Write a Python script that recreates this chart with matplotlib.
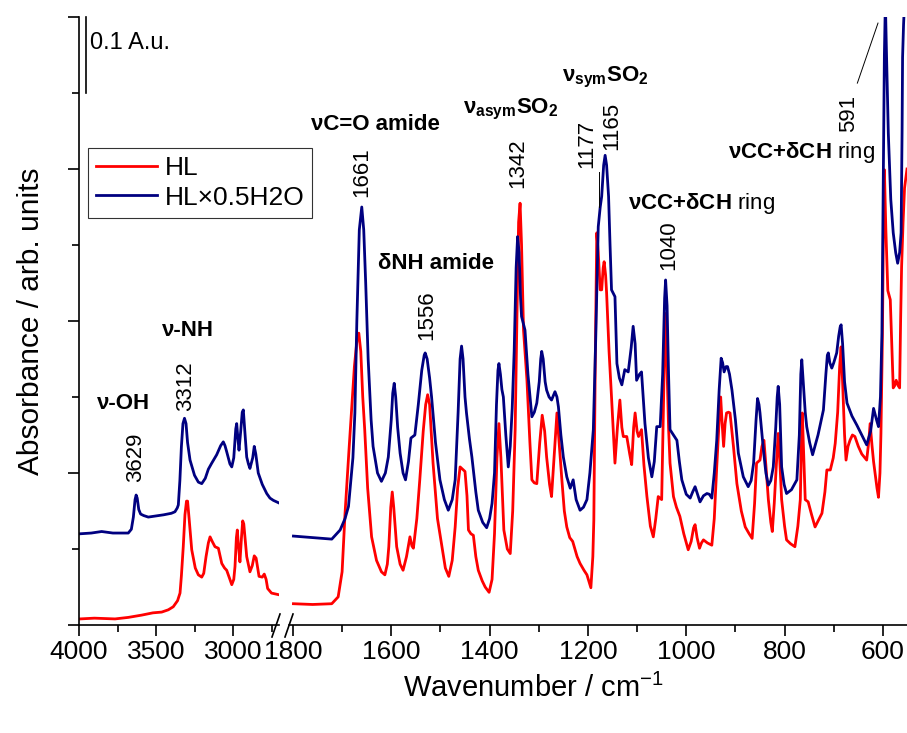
import matplotlib
matplotlib.use("Agg")
import matplotlib.pyplot as plt
from matplotlib.lines import Line2D
from matplotlib.ticker import MultipleLocator

plt.rcParams['font.family'] = ['Liberation Sans', 'DejaVu Sans']
plt.rcParams['mathtext.fontset'] = 'custom'
plt.rcParams['mathtext.rm'] = 'Liberation Sans'
plt.rcParams['mathtext.bf'] = 'Liberation Sans:bold'
plt.rcParams['mathtext.it'] = 'Liberation Sans:italic'

# --- data (wavenumber cm-1, absorbance incl. offset) ---
# high wavenumber part (4000 - 2700)
hl_left_wn = [3994, 3900, 3766, 3680, 3593, 3520, 3463, 3420, 3388, 3360, 3344, 3335, 3323, 3312, 3302,
              3295, 3285, 3268, 3245, 3225, 3203, 3190, 3175, 3160, 3149, 3135, 3117, 3095, 3073, 3055,
              3041, 3020, 3008, 2995, 2987, 2978, 2972, 2965, 2955, 2945, 2937, 2930, 2911, 2890, 2875,
              2862, 2850, 2831, 2810, 2797, 2785, 2775, 2750, 2706]
hl_left_abs = [0.008, 0.009, 0.008, 0.010, 0.013, 0.016, 0.017, 0.020, 0.024, 0.032, 0.042, 0.065, 0.103, 0.145, 0.163,
               0.163, 0.140, 0.099, 0.075, 0.066, 0.063, 0.068, 0.090, 0.108, 0.116, 0.110, 0.103, 0.101, 0.081, 0.075,
               0.072, 0.060, 0.053, 0.060, 0.077, 0.115, 0.125, 0.105, 0.083, 0.115, 0.137, 0.133, 0.090, 0.070, 0.078,
               0.091, 0.088, 0.064, 0.063, 0.067, 0.060, 0.048, 0.042, 0.040]

hyd_left_wn = [3994, 3920, 3853, 3780, 3680, 3660, 3647, 3636, 3629, 3622, 3612, 3600, 3580, 3550, 3450,
               3400, 3377, 3362, 3355, 3345, 3335, 3325, 3315, 3305, 3295, 3279, 3250, 3225, 3203, 3180,
               3160, 3138, 3106, 3080, 3063, 3052, 3041, 3020, 3008, 2995, 2982, 2976, 2968, 2961, 2950,
               2940, 2933, 2925, 2911, 2900, 2890, 2872, 2862, 2852, 2836, 2810, 2781, 2760, 2738, 2706]
hyd_left_abs = [0.120, 0.121, 0.123, 0.121, 0.121, 0.126, 0.142, 0.165, 0.171, 0.167, 0.152, 0.146, 0.144, 0.142, 0.145,
                0.147, 0.149, 0.154, 0.158, 0.190, 0.235, 0.265, 0.272, 0.265, 0.240, 0.217, 0.197, 0.188, 0.186, 0.193,
                0.205, 0.213, 0.224, 0.236, 0.241, 0.236, 0.228, 0.212, 0.208, 0.220, 0.258, 0.265, 0.245, 0.230, 0.255,
                0.280, 0.283, 0.260, 0.221, 0.212, 0.206, 0.220, 0.235, 0.225, 0.200, 0.185, 0.173, 0.167, 0.164, 0.161]

# fingerprint part (1800 - 550)
hl_right_wn = [1799, 1760, 1721, 1708, 1700, 1694, 1686, 1681, 1675, 1669, 1666, 1662, 1658, 1654, 1648,
               1640, 1630, 1620, 1613, 1608, 1605, 1601, 1598, 1595, 1589, 1582, 1576, 1569, 1562, 1558,
               1555, 1548, 1542, 1535, 1530, 1526, 1522, 1515, 1506, 1497, 1490, 1483, 1476, 1470, 1465,
               1460, 1455, 1450, 1446, 1443, 1438, 1433, 1428, 1423, 1415, 1409, 1401, 1395, 1390, 1385,
               1381, 1377, 1371, 1364, 1358, 1353, 1348, 1344, 1341, 1338, 1335, 1331, 1324, 1318, 1314,
               1309, 1304, 1298, 1293, 1288, 1284, 1278, 1274, 1269, 1263, 1258, 1253, 1248, 1243, 1237,
               1231, 1222, 1216, 1208, 1202, 1194, 1190, 1188, 1185, 1182, 1179, 1175, 1172, 1169, 1167,
               1164, 1162, 1157, 1152, 1145, 1140, 1135, 1131, 1128, 1121, 1115, 1111, 1107, 1104, 1100,
               1097, 1091, 1086, 1080, 1073, 1067, 1062, 1057, 1050, 1046, 1043, 1040, 1036, 1033, 1026,
               1020, 1013, 1005, 996, 990, 985, 982, 978, 973, 969, 965, 957, 948, 943, 938,
               933, 930, 927, 924, 921, 918, 914, 911, 904, 897, 888, 880, 872, 866, 861,
               857, 850, 846, 842, 838, 833, 828, 825, 821, 817, 813, 810, 806, 800, 796,
               788, 779, 773, 768, 766, 764, 761, 758, 752, 745, 738, 731, 724, 718, 714,
               707, 701, 697, 692, 688, 685, 682, 678, 675, 671, 667, 662, 657, 650, 643,
               633, 629, 626, 622, 619, 616, 612, 609, 606, 604, 601, 599, 597, 594, 590,
               585, 581, 579, 576, 573, 569, 566, 564, 562, 559, 556, 551]
hl_right_abs = [0.028, 0.027, 0.028, 0.037, 0.070, 0.147, 0.230, 0.279, 0.340, 0.380, 0.384, 0.360, 0.300, 0.257, 0.180,
                0.116, 0.085, 0.070, 0.066, 0.080, 0.103, 0.155, 0.175, 0.155, 0.103, 0.080, 0.072, 0.090, 0.116, 0.104,
                0.101, 0.140, 0.191, 0.255, 0.290, 0.303, 0.290, 0.213, 0.140, 0.103, 0.075, 0.064, 0.085, 0.129, 0.180,
                0.208, 0.205, 0.202, 0.170, 0.125, 0.120, 0.118, 0.090, 0.072, 0.058, 0.050, 0.043, 0.060, 0.120, 0.220,
                0.265, 0.220, 0.125, 0.100, 0.094, 0.150, 0.257, 0.420, 0.530, 0.555, 0.500, 0.388, 0.322, 0.240, 0.191,
                0.187, 0.186, 0.240, 0.276, 0.255, 0.221, 0.185, 0.169, 0.220, 0.279, 0.235, 0.191, 0.150, 0.129, 0.115,
                0.110, 0.090, 0.081, 0.072, 0.066, 0.049, 0.090, 0.138, 0.350, 0.516, 0.490, 0.441, 0.441, 0.470, 0.478,
                0.460, 0.437, 0.360, 0.300, 0.213, 0.260, 0.296, 0.260, 0.248, 0.248, 0.225, 0.211, 0.260, 0.279, 0.255,
                0.248, 0.257, 0.210, 0.169, 0.130, 0.116, 0.140, 0.169, 0.165, 0.300, 0.410, 0.360, 0.260, 0.213, 0.169,
                0.155, 0.143, 0.120, 0.099, 0.110, 0.128, 0.132, 0.115, 0.101, 0.108, 0.112, 0.108, 0.105, 0.140, 0.208,
                0.270, 0.300, 0.265, 0.235, 0.265, 0.279, 0.280, 0.279, 0.235, 0.186, 0.150, 0.129, 0.120, 0.114, 0.160,
                0.213, 0.217, 0.235, 0.243, 0.210, 0.165, 0.135, 0.123, 0.160, 0.208, 0.252, 0.220, 0.165, 0.130, 0.112,
                0.107, 0.103, 0.130, 0.165, 0.230, 0.279, 0.220, 0.165, 0.162, 0.145, 0.129, 0.138, 0.147, 0.175, 0.204,
                0.204, 0.220, 0.239, 0.280, 0.340, 0.366, 0.320, 0.250, 0.217, 0.235, 0.243, 0.250, 0.248, 0.235, 0.225,
                0.217, 0.240, 0.265, 0.235, 0.215, 0.200, 0.180, 0.168, 0.200, 0.252, 0.380, 0.520, 0.599, 0.520, 0.440,
                0.428, 0.350, 0.312, 0.315, 0.322, 0.315, 0.312, 0.400, 0.471, 0.530, 0.575, 0.600]

hyd_right_wn = [1799, 1760, 1721, 1704, 1694, 1687, 1678, 1674, 1670, 1665, 1660, 1656, 1652, 1647, 1641,
                1637, 1628, 1620, 1612, 1606, 1600, 1597, 1594, 1591, 1587, 1582, 1576, 1571, 1565, 1560,
                1552, 1545, 1538, 1533, 1531, 1527, 1522, 1518, 1510, 1501, 1492, 1484, 1476, 1470, 1464,
                1460, 1457, 1454, 1450, 1447, 1441, 1436, 1428, 1423, 1414, 1406, 1400, 1395, 1390, 1386,
                1383, 1381, 1378, 1375, 1372, 1367, 1362, 1358, 1354, 1350, 1346, 1343, 1340, 1337, 1335,
                1328, 1322, 1314, 1309, 1304, 1299, 1296, 1294, 1291, 1287, 1284, 1279, 1274, 1267, 1263,
                1260, 1255, 1250, 1243, 1236, 1230, 1224, 1216, 1209, 1202, 1196, 1189, 1184, 1179, 1175,
                1172, 1168, 1165, 1162, 1158, 1155, 1152, 1145, 1141, 1136, 1131, 1125, 1118, 1112, 1108,
                1104, 1101, 1095, 1091, 1084, 1077, 1070, 1065, 1060, 1053, 1048, 1044, 1042, 1039, 1036,
                1033, 1026, 1019, 1014, 1009, 1000, 992, 987, 982, 977, 972, 965, 958, 953, 948,
                943, 938, 933, 929, 926, 923, 919, 916, 912, 907, 900, 894, 884, 874, 868,
                863, 858, 855, 852, 850, 843, 838, 833, 828, 823, 818, 815, 813, 810, 806,
                801, 796, 786, 775, 770, 767, 765, 762, 758, 755, 749, 743, 732, 721, 716,
                713, 711, 708, 704, 700, 694, 690, 687, 685, 682, 678, 673, 663, 653, 643,
                633, 625, 619, 613, 609, 605, 602, 599, 597, 595, 593, 589, 584, 579, 574,
                570, 566, 563, 561, 560, 558, 556, 551]
hyd_right_abs = [0.117, 0.115, 0.113, 0.125, 0.140, 0.156, 0.220, 0.279, 0.400, 0.520, 0.550, 0.520, 0.450, 0.350, 0.270,
                 0.235, 0.200, 0.189, 0.200, 0.221, 0.270, 0.305, 0.318, 0.300, 0.260, 0.226, 0.200, 0.191, 0.215, 0.246,
                 0.250, 0.290, 0.335, 0.355, 0.358, 0.350, 0.325, 0.300, 0.240, 0.191, 0.165, 0.151, 0.165, 0.191, 0.280,
                 0.350, 0.367, 0.350, 0.300, 0.279, 0.245, 0.221, 0.175, 0.151, 0.135, 0.128, 0.140, 0.160, 0.200, 0.290,
                 0.335, 0.344, 0.330, 0.310, 0.300, 0.250, 0.208, 0.235, 0.285, 0.360, 0.470, 0.511, 0.490, 0.430, 0.406,
                 0.388, 0.330, 0.274, 0.280, 0.292, 0.320, 0.350, 0.360, 0.350, 0.320, 0.309, 0.300, 0.296, 0.307, 0.300,
                 0.287, 0.250, 0.221, 0.195, 0.180, 0.191, 0.165, 0.151, 0.155, 0.165, 0.200, 0.257, 0.380, 0.524, 0.550,
                 0.564, 0.605, 0.618, 0.605, 0.564, 0.500, 0.441, 0.432, 0.344, 0.325, 0.316, 0.336, 0.333, 0.365, 0.393,
                 0.370, 0.322, 0.330, 0.333, 0.265, 0.220, 0.195, 0.215, 0.261, 0.261, 0.330, 0.430, 0.454, 0.420, 0.330,
                 0.257, 0.250, 0.243, 0.215, 0.191, 0.172, 0.167, 0.175, 0.182, 0.172, 0.162, 0.170, 0.173, 0.172, 0.167,
                 0.200, 0.243, 0.310, 0.351, 0.345, 0.333, 0.340, 0.340, 0.330, 0.309, 0.270, 0.226, 0.195, 0.182, 0.190,
                 0.213, 0.270, 0.298, 0.290, 0.279, 0.230, 0.200, 0.184, 0.190, 0.208, 0.260, 0.300, 0.314, 0.290, 0.208,
                 0.185, 0.173, 0.178, 0.191, 0.250, 0.330, 0.349, 0.320, 0.280, 0.261, 0.240, 0.224, 0.250, 0.283, 0.330,
                 0.355, 0.358, 0.345, 0.338, 0.345, 0.358, 0.380, 0.392, 0.395, 0.370, 0.320, 0.292, 0.275, 0.263, 0.250,
                 0.237, 0.255, 0.285, 0.270, 0.261, 0.300, 0.384, 0.603, 0.750, 0.820, 0.760, 0.647, 0.560, 0.516, 0.490,
                 0.476, 0.490, 0.516, 0.650, 0.747, 0.790, 0.820, 0.820]

series_labels = ['HL', 'HL×0.5H2O']
red = '#ff0000'
navy = '#000080'

fig = plt.figure(figsize=(9.07, 7.33), dpi=100)
W, H = 907.0, 733.0


def fx(px):
    return px / W


def fy(py):
    return 1 - py / H


bot, top = fy(625), fy(17)
ax1 = fig.add_axes([fx(79), bot, fx(279.2) - fx(79), top - bot])
ax2 = fig.add_axes([fx(289), bot, 1 - fx(289), top - bot])

lw = 2.0
ax1.plot(hl_left_wn, hl_left_abs, color=red, lw=lw, solid_joinstyle='round')
ax1.plot(hyd_left_wn, hyd_left_abs, color=navy, lw=lw, solid_joinstyle='round')
ax2.plot(hl_right_wn, hl_right_abs, color=red, lw=lw, solid_joinstyle='round', label=series_labels[0])
ax2.plot(hyd_right_wn, hyd_right_abs, color=navy, lw=lw, solid_joinstyle='round', label=series_labels[1])

ax1.set_xlim(4000, 2700)
ax2.set_xlim(1808, 551)
for ax in (ax1, ax2):
    ax.set_ylim(0, 0.8)
    ax.spines['top'].set_visible(False)
    ax.spines['right'].set_visible(False)
    ax.spines['bottom'].set_linewidth(1.2)
    ax.spines['left'].set_linewidth(1.2)
    ax.tick_params(which='major', direction='out', length=8, width=1.2, labelsize=19, pad=3)
    ax.tick_params(which='minor', direction='out', length=5, width=1.2)
    ax.patch.set_alpha(0)

ax1.xaxis.set_major_locator(MultipleLocator(500))
ax1.xaxis.set_minor_locator(MultipleLocator(250))
ax1.yaxis.set_major_locator(MultipleLocator(0.2))
ax1.yaxis.set_minor_locator(MultipleLocator(0.1))
ax1.set_yticklabels([])
ax1.set_xticks([4000, 3500, 3000])

ax2.xaxis.set_major_locator(MultipleLocator(200))
ax2.xaxis.set_minor_locator(MultipleLocator(100))
ax2.spines['left'].set_visible(False)
ax2.tick_params(axis='y', which='both', left=False, labelleft=False)

# axis break marks
for xc in (277, 290):
    fig.add_artist(Line2D([fx(xc - 5), fx(xc + 3)], [fy(637), fy(614)], color='black', lw=1.2))

# scale bar
ax1.plot([3955, 3955], [0.7, 0.8], color='black', lw=1.2, clip_on=False)
ax1.text(3929, 0.766, '0.1 A.u.', fontsize=17, ha='left', va='center')

# band annotations
ann = 16
ax1.text(3714, 0.291, 'ν-OH', fontsize=ann, fontweight='bold', ha='center', va='center')
ax1.text(3630, 0.188, '3629', fontsize=ann, rotation=90, ha='center', va='bottom')
ax1.text(3292, 0.388, 'ν-NH', fontsize=ann, fontweight='bold', ha='center', va='center')
ax1.text(3305, 0.282, '3312', fontsize=ann, rotation=90, ha='center', va='bottom')

ax2.text(1633, 0.658, 'νC=O amide', fontsize=ann, fontweight='bold', ha='center', va='center')
ax2.text(1661, 0.563, '1661', fontsize=ann, rotation=90, ha='center', va='bottom')
ax2.text(1509, 0.476, 'δNH amide', fontsize=ann, fontweight='bold', ha='center', va='center')
ax2.text(1527, 0.375, '1556', fontsize=ann, rotation=90, ha='center', va='bottom')
ax2.text(1358, 0.678, r'ν$_{\mathbf{asym}}$SO$_{\mathbf{2}}$', fontsize=ann, fontweight='bold',
         ha='center', va='center')
ax2.text(1342, 0.575, '1342', fontsize=ann, rotation=90, ha='center', va='bottom')
ax2.text(1165, 0.721, r'ν$_{\mathbf{sym}}$SO$_{\mathbf{2}}$', fontsize=ann, fontweight='bold',
         ha='center', va='center')
ax2.text(1202, 0.601, '1177', fontsize=ann, rotation=90, ha='center', va='bottom')
ax2.plot([1177, 1177], [0.55, 0.596], color='black', lw=0.7)
ax2.text(1151, 0.625, '1165', fontsize=ann, rotation=90, ha='center', va='bottom')
ax2.text(970, 0.554, r'$\mathbf{\nu CC{+}\delta CH}$ ring', fontsize=ann, ha='center', va='center')
ax2.text(1035, 0.467, '1040', fontsize=ann, rotation=90, ha='center', va='bottom')
ax2.text(766, 0.622, r'$\mathbf{\nu CC{+}\delta CH}$ ring', fontsize=ann, ha='center', va='center')
ax2.text(669, 0.649, '591', fontsize=ann, rotation=90, ha='center', va='bottom')
ax2.plot([652, 610], [0.713, 0.792], color='black', lw=0.7)

# legend
handles, labels = ax2.get_legend_handles_labels()
leg = fig.legend(handles, labels, loc='upper left', bbox_to_anchor=(fx(88), fy(148)),
                 fontsize=19, frameon=True, fancybox=False, borderaxespad=0,
                 borderpad=0.3, labelspacing=0.22, handlelength=2.3, handletextpad=0.3)
leg.get_frame().set_edgecolor('black')
leg.get_frame().set_linewidth(0.8)

fig.text(fx(533), fy(688), r'Wavenumber / cm$^{-1}$', fontsize=21, ha='center', va='center')
fig.text(fx(31), fy(321), 'Absorbance / arb. units', fontsize=21.5, rotation=90, ha='center', va='center')

fig.savefig('out.png', dpi=100)
